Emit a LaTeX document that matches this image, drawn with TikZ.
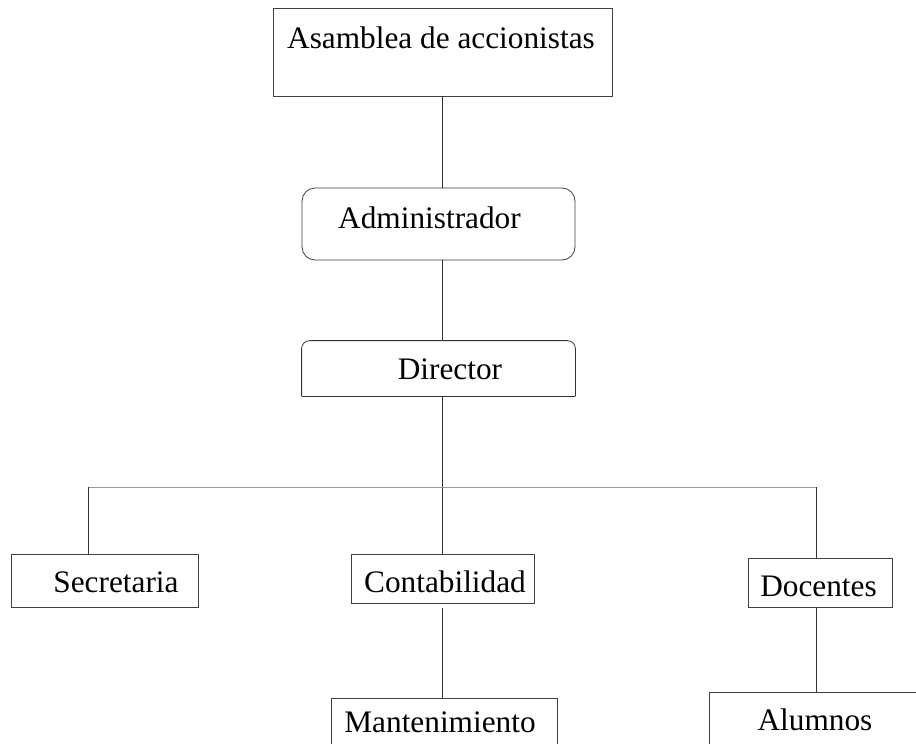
\documentclass[tikz,border=0pt]{standalone}
\usepackage{fontspec}
\setmainfont{Liberation Serif}
\begin{document}
\begin{tikzpicture}[x=1pt,y=-1pt,
  box/.style={draw=black!75, line width=0.8pt, inner sep=0pt, anchor=base,
    font=\fontsize{31.3}{36}\selectfont},
  plainbox/.style={box, draw=none},
  conn/.style={draw=black!80, line width=0.8pt},
  hconn/.style={draw=black!40, line width=1pt}]
\useasboundingbox (0,0) rectangle (916,744);
\fill[white] (0,0) rectangle (916,744);
\clip (0,0) rectangle (916,744);

% boxes
\node[box, minimum width=339pt, text height=40pt, text depth=48pt] (asam) at (442.5,48) {Asamblea de accionistas\kern3pt};
\node[box, rounded corners=13pt, minimum width=273pt, text height=40pt, text depth=32pt] (adm) at (438.5,228) {Administrador\kern18pt};
\node[plainbox, minimum width=273pt, text height=38pt, text depth=17pt] (dir) at (438.5,379) {\kern23pt Director};
\draw[conn, rounded corners=8pt] (dir.south west) -- (dir.north west) -- (dir.north east) -- (dir.south east);
\draw[conn] (dir.south west) -- (dir.south east);

\node[box, minimum width=187pt, text height=38pt, text depth=15pt] (sec) at (104.5,592) {\kern23pt Secretaria};
\node[box, minimum width=183pt, text height=38pt, text depth=11pt] (cont) at (442.5,592) {\kern5pt Contabilidad};
\node[box, minimum width=144pt, text height=38pt, text depth=11pt] (doc) at (820,596) {Docentes\kern3pt};
\node[box, minimum width=226pt, text height=34pt, text depth=38pt] (mant) at (444,732) {Mantenimiento\kern8pt};
\node[box, minimum width=212pt, text height=38pt, text depth=40pt] (alum) at (815,730) {Alumnos};

% junctions
\coordinate (jl) at (88,487);
\coordinate (jr) at (816.5,487);

% connectors
\draw[conn] (asam.south) -- (asam.south |- adm.north);
\draw[conn] (adm.south -| asam.south) -- (asam.south |- dir.north);
\draw[conn] (dir.south -| cont.north) -- (cont.north);
\draw[hconn] (jl) -- (jr);
\draw[conn] (jl) -- (jl |- sec.north);
\draw[conn] (jr) -- (jr |- doc.north);
\draw[conn, shorten <=5pt] (cont.south) -- (cont.south |- mant.north);
\draw[conn] (doc.south -| jr) -- (jr |- alum.north);
\end{tikzpicture}
\end{document}
